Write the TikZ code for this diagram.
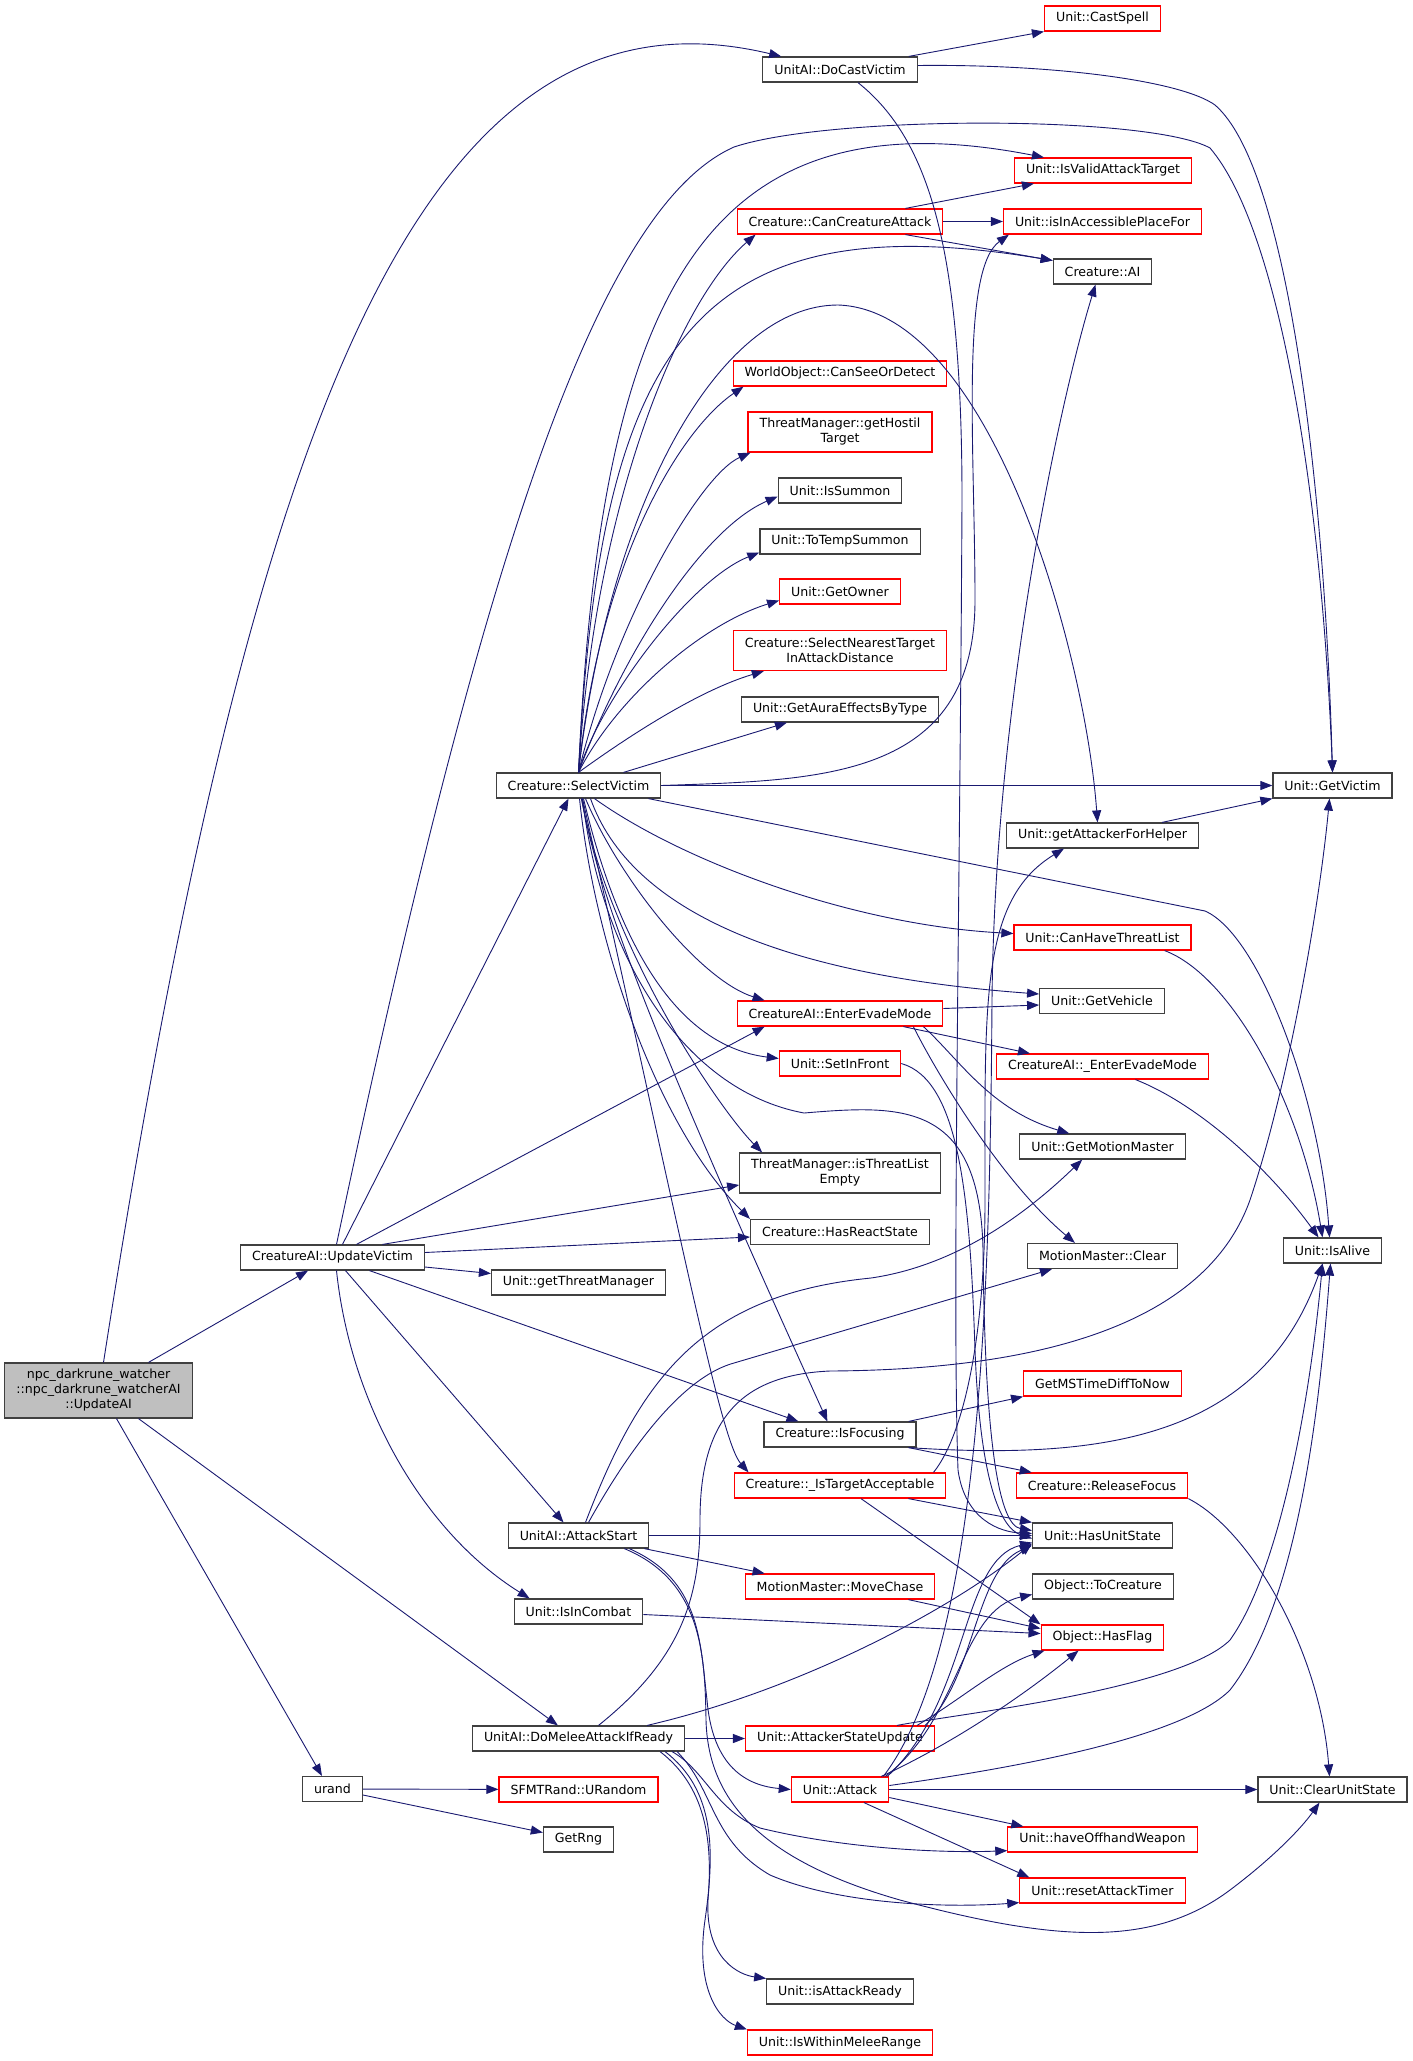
\documentclass[tikz,border=0pt]{standalone}
\usepackage{fontspec}
\setmainfont{DejaVu Sans}
\usetikzlibrary{arrows.meta}
\definecolor{edgeblue}{HTML}{191970}
\definecolor{boxgrey}{HTML}{404040}
\definecolor{truncred}{HTML}{FF0000}
\definecolor{rootgrey}{HTML}{BFBFBF}
\begin{document}
\begin{tikzpicture}[x=1pt,y=-1pt,
    fn/.style ={draw=boxgrey, line width=1.2pt, fill=white, inner xsep=11.5pt, inner ysep=0pt,
                minimum height=25pt, font=\fontsize{12.6}{15}\selectfont, align=center},
    trunc/.style ={fn, draw=truncred},
    call/.style ={draw=edgeblue, line width=0.9pt, -{Triangle[length=12pt,width=9pt]}}]
   \useasboundingbox (0,0) rectangle (1413,2061);
   % column 1 and 2
   \node[fn, fill=rootgrey, minimum height=55pt] (npc) at (98.5,1390.5) {npc\_darkrune\_watcher\\::npc\_darkrune\_watcherAI\\::UpdateAI};
   \node[fn] (uv) at (332.5,1257.5) {CreatureAI::UpdateVictim};
   \node[fn] (urand) at (332.5,1789) {urand};
   % column 3
   \node[fn] (sv) at (578.5,785.5) {Creature::SelectVictim};
   \node[fn] (gtm) at (578.5,1282.5) {Unit::getThreatManager};
   \node[fn] (as) at (578.5,1535.5) {UnitAI::AttackStart};
   \node[fn] (ic) at (578.5,1611.5) {Unit::IsInCombat};
   \node[fn] (dm) at (578.5,1738.5) {UnitAI::DoMeleeAttackIfReady};
   \node[trunc] (sfmt) at (578.5,1789.5) {SFMTRand::URandom};
   \node[fn] (rng) at (578.5,1839.5) {GetRng};
   % column 4
   \node[fn] (dcv) at (840,69.5) {UnitAI::DoCastVictim};
   \node[trunc] (cca) at (840,221.5) {Creature::CanCreatureAttack};
   \node[trunc] (wo) at (840,373.5) {WorldObject::CanSeeOrDetect};
   \node[trunc, minimum height=40pt] (ght) at (840,432) {ThreatManager::getHostil\\Target};
   \node[fn] (isum) at (840,490.5) {Unit::IsSummon};
   \node[fn] (tts) at (840,541.5) {Unit::ToTempSummon};
   \node[trunc] (go) at (840,591.5) {Unit::GetOwner};
   \node[trunc, minimum height=40pt] (snt) at (840,650.5) {Creature::SelectNearestTarget\\InAttackDistance};
   \node[fn] (gae) at (840,709.5) {Unit::GetAuraEffectsByType};
   \node[trunc] (eem) at (840,1013.5) {CreatureAI::EnterEvadeMode};
   \node[trunc] (sif) at (840,1063.5) {Unit::SetInFront};
   \node[fn, minimum height=40pt] (itl) at (840,1173) {ThreatManager::isThreatList\\Empty};
   \node[fn] (hrs) at (840,1232) {Creature::HasReactState};
   \node[fn] (isf) at (840,1434.5) {Creature::IsFocusing};
   \node[trunc] (ita) at (840,1485.5) {Creature::\_IsTargetAcceptable};
   \node[trunc] (mc) at (840,1586.5) {MotionMaster::MoveChase};
   \node[trunc] (asu) at (840,1738.5) {Unit::AttackerStateUpdate};
   \node[trunc] (att) at (840,1789.5) {Unit::Attack};
   \node[fn] (iar) at (840,1991.5) {Unit::isAttackReady};
   \node[trunc] (iwm) at (840,2042.5) {Unit::IsWithinMeleeRange};
   % column 5
   \node[trunc] (cs) at (1102.5,18.5) {Unit::CastSpell};
   \node[trunc] (iva) at (1103,170.5) {Unit::IsValidAttackTarget};
   \node[trunc] (iap) at (1102.5,221.5) {Unit::isInAccessiblePlaceFor};
   \node[fn] (cai) at (1102.5,271.5) {Creature::AI};
   \node[fn] (gafh) at (1102.5,835.5) {Unit::getAttackerForHelper};
   \node[trunc] (chtl) at (1102.5,937.5) {Unit::CanHaveThreatList};
   \node[fn] (gveh) at (1102,1001) {Unit::GetVehicle};
   \node[trunc] (eemu) at (1102.5,1066.5) {CreatureAI::\_EnterEvadeMode};
   \node[fn] (gmm) at (1102.5,1146.5) {Unit::GetMotionMaster};
   \node[fn] (mmc) at (1102.5,1256) {MotionMaster::Clear};
   \node[trunc] (gms) at (1102.5,1383.5) {GetMSTimeDiffToNow};
   \node[trunc] (rf) at (1102,1485.5) {Creature::ReleaseFocus};
   \node[fn] (hus) at (1102.5,1535.5) {Unit::HasUnitState};
   \node[fn] (otc) at (1103,1586.5) {Object::ToCreature};
   \node[trunc] (hf) at (1102.5,1637.5) {Object::HasFlag};
   \node[trunc] (hoh) at (1102.5,1839.5) {Unit::haveOffhandWeapon};
   \node[trunc] (rat) at (1102.5,1890.5) {Unit::resetAttackTimer};
   % column 6
   \node[fn] (gv) at (1332.5,785.5) {Unit::GetVictim};
   \node[fn] (ia) at (1332.5,1250.5) {Unit::IsAlive};
   \node[fn] (cus) at (1332.5,1789.5) {Unit::ClearUnitState};

   % root
   \draw[call] ([xshift=5pt]npc.north) .. controls (250,420) and (420,-30) .. ([xshift=19pt]dcv.north west);
   \draw[call] ([xshift=50pt]npc.north) -- ([xshift=68pt]uv.south west);
   \draw[call] ([xshift=40pt]npc.south) -- ([xshift=86pt]dm.north west);
   \draw[call] ([xshift=18pt]npc.south) -- ([xshift=20pt]urand.north west);
   % UpdateVictim
   \draw[call] ([xshift=10pt]uv.north) -- ([xshift=-10pt]sv.south);
   \draw[call] ([xshift=4pt]uv.north) .. controls (481,560) and (597,208) .. (734,147) .. controls (830,115) and (1150,115) .. (1210,148) .. controls (1280,230) and (1322,500) .. (gv.north);
   \draw[call] ([xshift=24pt]uv.north) -- ([xshift=28pt]eem.south west);
   \draw[call] ([xshift=50pt]uv.north) -- ([yshift=-12pt]itl.west);
   \draw[call] ([yshift=5pt]uv.east) -- ([yshift=-5pt]hrs.west);
   \draw[call] ([yshift=-9.5pt]uv.east) -- ([yshift=9pt]gtm.west);
   \draw[call] ([xshift=37pt]uv.south) -- ([xshift=35pt]isf.north west);
   \draw[call] ([xshift=13pt]uv.south) -- ([xshift=-15pt]as.north);
   \draw[call] ([xshift=4pt]uv.south) .. controls (350,1400) and (420,1530) .. ([xshift=16pt]ic.north west);
   % SelectVictim, upwards
   \draw[call] (sv.north) .. controls (600,300) and (700,90) .. ([xshift=30pt]iva.north west);
   \draw[call] (sv.north) .. controls (595,500) and (680,300) .. ([xshift=19pt]cca.south west);
   \draw[call] (sv.north) .. controls (600,350) and (690,200) .. ([yshift=11pt]cai.west);
   \draw[call] (sv.north) .. controls (610,500) and (720,305) .. (838,305) .. controls (990,310) and (1085,650) .. ([xshift=-5pt]gafh.north);
   \draw[call] (sv.north) .. controls (600,560) and (680,430) .. ([xshift=11pt]wo.south west);
   \draw[call] (sv.north) .. controls (615,620) and (700,475) .. ([xshift=3pt]ght.south west);
   \draw[call] (sv.north) .. controls (620,660) and (700,530) .. ([yshift=-6pt]isum.west);
   \draw[call] (sv.north) .. controls (600,700) and (690,580) .. ([yshift=-11pt]tts.west);
   \draw[call] (sv.north) .. controls (615,700) and (700,625) .. ([yshift=-9pt]go.west);
   \draw[call] (sv.north) .. controls (630,735) and (700,690) .. ([xshift=31pt]snt.south west);
   \draw[call] ([xshift=45pt]sv.north) -- ([xshift=46pt]gae.south west);
   % SelectVictim, sideways and down
   \draw[call] (sv.east) .. controls (820,780) and (975,780) .. (975,600) .. controls (975,450) and (960,270) .. ([xshift=6pt]iap.south west);
   \draw[call] (sv) -- (gv);
   \draw[call] ([xshift=70pt]sv.south) -- (1205,911) .. controls (1260,935) and (1320,1100) .. ([xshift=-3pt]ia.north);
   \draw[call] ([xshift=16pt]sv.south) .. controls (680,860) and (850,925) .. ([yshift=4pt]chtl.west);
   \draw[call] ([xshift=12pt]sv.south) .. controls (630,910) and (780,975) .. ([yshift=7pt]gveh.west);
   \draw[call] ([xshift=7pt]sv.south) .. controls (620,880) and (700,980) .. ([xshift=28pt]eem.north west);
   \draw[call] ([xshift=5pt]sv.south) .. controls (615,930) and (670,1045) .. ([yshift=5pt]sif.west);
   \draw[call] ([xshift=4pt]sv.south) .. controls (600,950) and (680,1090) .. (804,1113) .. controls (900,1105) and (980,1100) .. (983,1250) .. controls (985,1450) and (1000,1525) .. ([yshift=5pt]hus.west);
   \draw[call] ([xshift=3pt]sv.south) .. controls (610,950) and (720,1110) .. ([xshift=23pt]itl.north west);
   \draw[call] ([xshift=1pt]sv.south) .. controls (595,950) and (660,1130) .. (hrs.north west);
   \draw[call] ([xshift=3pt]sv.south) .. controls (600,900) and (650,1030) .. ([xshift=64pt]isf.north west);
   \draw[call] ([xshift=4pt]sv.south) .. controls (680,1230) and (720,1440) .. ([xshift=15pt]ita.north west);
   % EnterEvadeMode
   \draw[call] ([yshift=5pt]eem.east) -- ([yshift=-4pt]gveh.west);
   \draw[call] ([xshift=-40pt]eem.south east) -- ([xshift=34pt]eemu.north west);
   \draw[call] ([xshift=-20pt]eem.south east) .. controls (960,1060) and (990,1110) .. ([xshift=50pt]gmm.north west);
   \draw[call] ([xshift=-30pt]eem.south east) .. controls (935,1070) and (1000,1180) .. ([xshift=48pt]mmc.north west);
   \draw[call] (sif.east) .. controls (960,1080) and (970,1200) .. (975,1350) .. controls (980,1480) and (1000,1528) .. ([yshift=-3pt]hus.west);
   % DoCastVictim
   \draw[call] ([xshift=-9pt]dcv.north east) -- (cs.south west);
   \draw[call] ([yshift=4pt]dcv.east) .. controls (1050,64) and (1180,80) .. (1215,105) .. controls (1290,170) and (1325,500) .. (gv.north);
   \draw[call] ([xshift=18pt]dcv.south) .. controls (930,140) and (962,250) .. (962,500) .. controls (960,900) and (952,1300) .. (958,1470) .. controls (965,1520) and (1000,1532) .. ([yshift=2pt]hus.west);
   % CanCreatureAttack and the right hand side
   \draw[call] ([xshift=-38pt]cca.north east) -- ([xshift=20pt]iva.south west);
   \draw[call] (cca) -- (iap);
   \draw[call] ([xshift=-38pt]cca.south east) -- ([yshift=11pt]cai.west);
   \draw[call] ([xshift=-37pt]gafh.north east) -- (gv.south west);
   \draw[call] ([xshift=-27pt]chtl.south east) .. controls (1230,975) and (1300,1100) .. ([xshift=-10pt]ia.north);
   \draw[call] ([xshift=33pt]eemu.south) .. controls (1200,1105) and (1270,1170) .. ([xshift=-14pt]ia.north);
   \draw[call] (rf.south east) .. controls (1250,1530) and (1320,1650) .. ([xshift=-3pt]cus.north);
   % IsFocusing
   \draw[call] ([xshift=-8pt]isf.north east) -- (gms.south west);
   \draw[call] ([xshift=-8pt]isf.south east) .. controls (1100,1460) and (1260,1440) .. ([xshift=-10pt]ia.south);
   \draw[call] ([xshift=-8pt]isf.south east) -- ([xshift=16pt]rf.north west);
   % _IsTargetAcceptable
   \draw[call] ([xshift=-38pt]ita.south east) -- (hus.north west);
   \draw[call] ([xshift=21pt]ita.south) -- (hf.north west);
   \draw[call] ([xshift=-13pt]ita.north east) .. controls (960,1440) and (985,1350) .. (985,1200) .. controls (985,1000) and (980,900) .. ([xshift=58pt]gafh.south west);
   % AttackStart
   \draw[call] (as) -- (hus);
   \draw[call] ([xshift=-5pt]as.south east) -- ([xshift=20pt]mc.north west);
   \draw[call] ([xshift=7pt]as.north) .. controls (640,1380) and (700,1295) .. (871,1278) .. controls (960,1265) and (1030,1210) .. ([xshift=63pt]gmm.south west);
   \draw[call] ([xshift=10pt]as.north) .. controls (640,1430) and (690,1375) .. (734,1363) -- ([xshift=25pt]mmc.south west);
   \draw[call] ([xshift=-20pt]as.south east) .. controls (700,1580) and (700,1640) .. (707,1700) .. controls (712,1760) and (740,1785) .. (att.west);
   \draw[call] ([xshift=-25pt]as.south east) .. controls (700,1580) and (705,1650) .. (706,1720) .. controls (708,1800) and (760,1860) .. (900,1900) .. controls (1050,1940) and (1150,1950) .. (1230,1890) .. controls (1270,1860) and (1300,1830) .. ([xshift=-13pt]cus.south);
   \draw[call] ([yshift=-3pt]ic.east) -- ([yshift=4pt]hf.west);
   % DoMeleeAttackIfReady
   \draw[call] (dm) -- (asu);
   \draw[call] ([xshift=20pt]dm.north) .. controls (680,1660) and (700,1600) .. (700,1520) .. controls (700,1420) and (740,1375) .. (830,1371) .. controls (1000,1370) and (1200,1340) .. (1250,1200) .. controls (1290,1080) and (1320,900) .. ([xshift=-3pt]gv.south);
   \draw[call] ([xshift=-38pt]dm.north east) .. controls (800,1690) and (950,1610) .. ([yshift=-8pt]hus.west);
   \draw[call] ([xshift=-25pt]dm.south east) .. controls (710,1790) and (712,1850) .. (708,1900) .. controls (705,1960) and (740,1975) .. (iar.north west);
   \draw[call] ([xshift=-20pt]dm.south east) .. controls (715,1790) and (715,1850) .. (705,1920) .. controls (695,1990) and (720,2020) .. (iwm.north west);
   \draw[call] ([xshift=-13pt]dm.south east) .. controls (705,1770) and (715,1810) .. (760,1828) .. controls (850,1850) and (950,1853) .. ([yshift=2pt]hoh.south west);
   \draw[call] ([xshift=-8pt]dm.south east) .. controls (715,1790) and (710,1840) .. (770,1875) .. controls (840,1905) and (950,1908) .. ([yshift=1pt]rat.south west);
   % AttackerStateUpdate
   \draw[call] ([xshift=-38pt]asu.north east) .. controls (950,1715) and (1180,1690) .. (1230,1640) .. controls (1280,1570) and (1310,1400) .. ([xshift=-10pt]ia.south);
   \draw[call] ([xshift=-18pt]asu.north east) .. controls (960,1700) and (1000,1665) .. ([xshift=4pt]hf.south west);
   \draw[call] ([xshift=-10pt]asu.north east) .. controls (975,1680) and (975,1570) .. ([yshift=-10pt]hus.west);
   % Attack
   \draw[call] (att) -- (cus);
   \draw[call] ([yshift=-8pt]att.east) -- ([xshift=16pt]hoh.north west);
   \draw[call] ([xshift=24pt]att.south) -- ([xshift=10pt]rat.north west);
   \draw[call] ([yshift=4pt]att.east) .. controls (1000,1770) and (1180,1740) .. (1230,1690) .. controls (1300,1600) and (1320,1400) .. ([xshift=-2pt]ia.south);
   \draw[call] ([xshift=-8pt]att.north east) .. controls (960,1740) and (1030,1690) .. ([xshift=38pt]hf.south west);
   \draw[call] ([xshift=-4pt]att.north east) .. controls (960,1720) and (960,1610) .. ([yshift=-8pt]otc.west);
   \draw[call] ([xshift=-2pt]att.north east) .. controls (970,1700) and (960,1560) .. ([yshift=-7pt]hus.west);
   \draw[call] ([xshift=-6pt]att.north east) .. controls (980,1650) and (990,1300) .. (992,1000) .. controls (995,700) and (1060,400) .. ([xshift=-7pt]cai.south);
   \draw[call] ([xshift=-27pt]mc.south east) -- ([yshift=9pt]hf.west);
   % urand
   \draw[call] (urand) -- (sfmt);
   \draw[call] ([yshift=-6pt]urand.east) -- ([yshift=7pt]rng.west);
\end{tikzpicture}
\end{document}
